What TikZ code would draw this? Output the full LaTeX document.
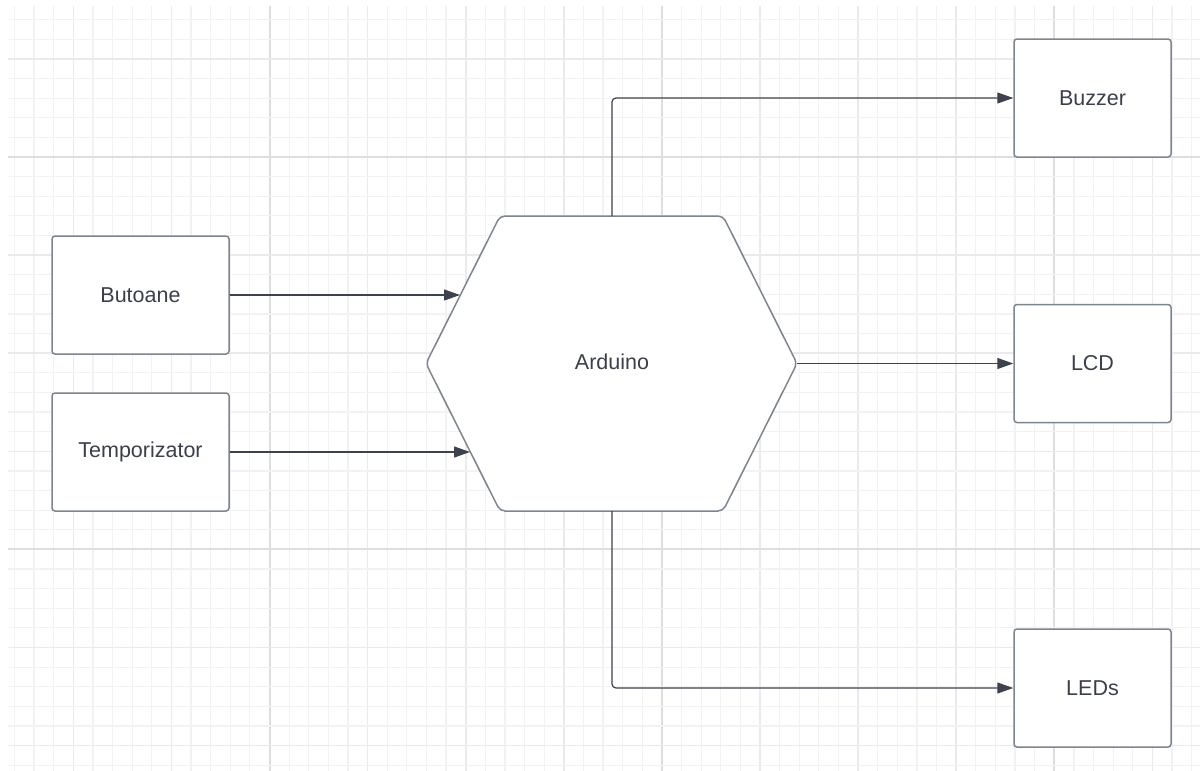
\documentclass[tikz,border=0pt]{standalone}
\usepackage{fontspec}
\setmainfont{Liberation Sans}
\usetikzlibrary{arrows.meta}
\definecolor{gridminor}{HTML}{F2F2F2}
\definecolor{gridmid}{HTML}{EAEAEA}
\definecolor{gridmajor}{HTML}{DEDEDE}
\definecolor{edgegrey}{HTML}{7D858F}
\definecolor{arrowdark}{HTML}{3D434C}
\definecolor{textdark}{HTML}{3A4049}
\tikzset{
  blockbox/.style={draw=edgegrey, line width=1.5pt, rounded corners=3pt, fill=white,
    minimum width=177pt, minimum height=118pt, inner sep=0pt,
    font=\fontsize{21.5}{26}\selectfont, text=textdark},
  outbox/.style={blockbox, minimum width=157pt},
  hexshape/.style={draw=edgegrey, line width=1.5pt, rounded corners=5pt, fill=white},
  hexlabel/.style={inner sep=0pt, font=\fontsize{21.5}{26}\selectfont, text=textdark},
  conn/.style={draw=arrowdark, line width=1.2pt, rounded corners=4pt,
    -{Triangle[length=16pt,width=11pt]}},
}
\begin{document}
\begin{tikzpicture}[x=1pt, y=-1pt]
\useasboundingbox (0,0) rectangle (1200,771);
\fill[white] (0,0) rectangle (1200,771);
% grid
\foreach \k in {-13,...,47}{
  \pgfmathsetmacro{\xx}{269.5+19.62*\k}
  \pgfmathtruncatemacro{\mfive}{mod(\k+100,5)}
  \pgfmathtruncatemacro{\mtwenty}{mod(\k+100,20)}
  \ifnum\mtwenty=0
    \draw[gridmajor, line width=2pt] (\xx,6) -- (\xx,771);
  \else\ifnum\mfive=0
    \draw[gridmid, line width=1.6pt] (\xx,6) -- (\xx,771);
  \else
    \draw[gridminor, line width=1.2pt] (\xx,6) -- (\xx,771);
  \fi\fi
}
\foreach \k in {-7,...,31}{
  \pgfmathsetmacro{\yy}{157+19.62*\k}
  \pgfmathtruncatemacro{\mfive}{mod(\k+100,5)}
  \pgfmathtruncatemacro{\mtwenty}{mod(\k+100,20)}
  \ifnum\mtwenty=0
    \draw[gridmajor, line width=2pt] (8,\yy) -- (1200,\yy);
  \else\ifnum\mfive=0
    \draw[gridmid, line width=1.6pt] (8,\yy) -- (1200,\yy);
  \else
    \draw[gridminor, line width=1.2pt] (8,\yy) -- (1200,\yy);
  \fi\fi
}
% hexagon
\draw[hexshape] (500,216) -- (723,216) -- (797,363.5) -- (723,511) -- (500,511) -- (426,363.5) -- cycle;
\node[hexlabel] (arduino) at (612,362) {Arduino};
\coordinate (hexN) at (612,216);
\coordinate (hexS) at (612,511);
\coordinate (hexE) at (797,363.5);
\coordinate (hexNW) at (460,295);
\coordinate (hexSW) at (470,452);
% blocks
\node[blockbox] (butoane) at (140.5,295) {Butoane};
\node[blockbox] (temp) at (140.5,452) {Temporizator};
\node[outbox] (buzzer) at (1092.5,98) {Buzzer};
\node[outbox] (lcd) at (1092.5,363.5) {LCD};
\node[outbox] (leds) at (1092.5,688) {LEDs};
% connectors
\draw[conn] (butoane.east) -- (hexNW);
\draw[conn] (temp.east) -- (hexSW);
\draw[conn] (hexN) |- (buzzer.west);
\draw[conn] (hexE) -- (lcd.west);
\draw[conn] (hexS) |- (leds.west);
\end{tikzpicture}
\end{document}
